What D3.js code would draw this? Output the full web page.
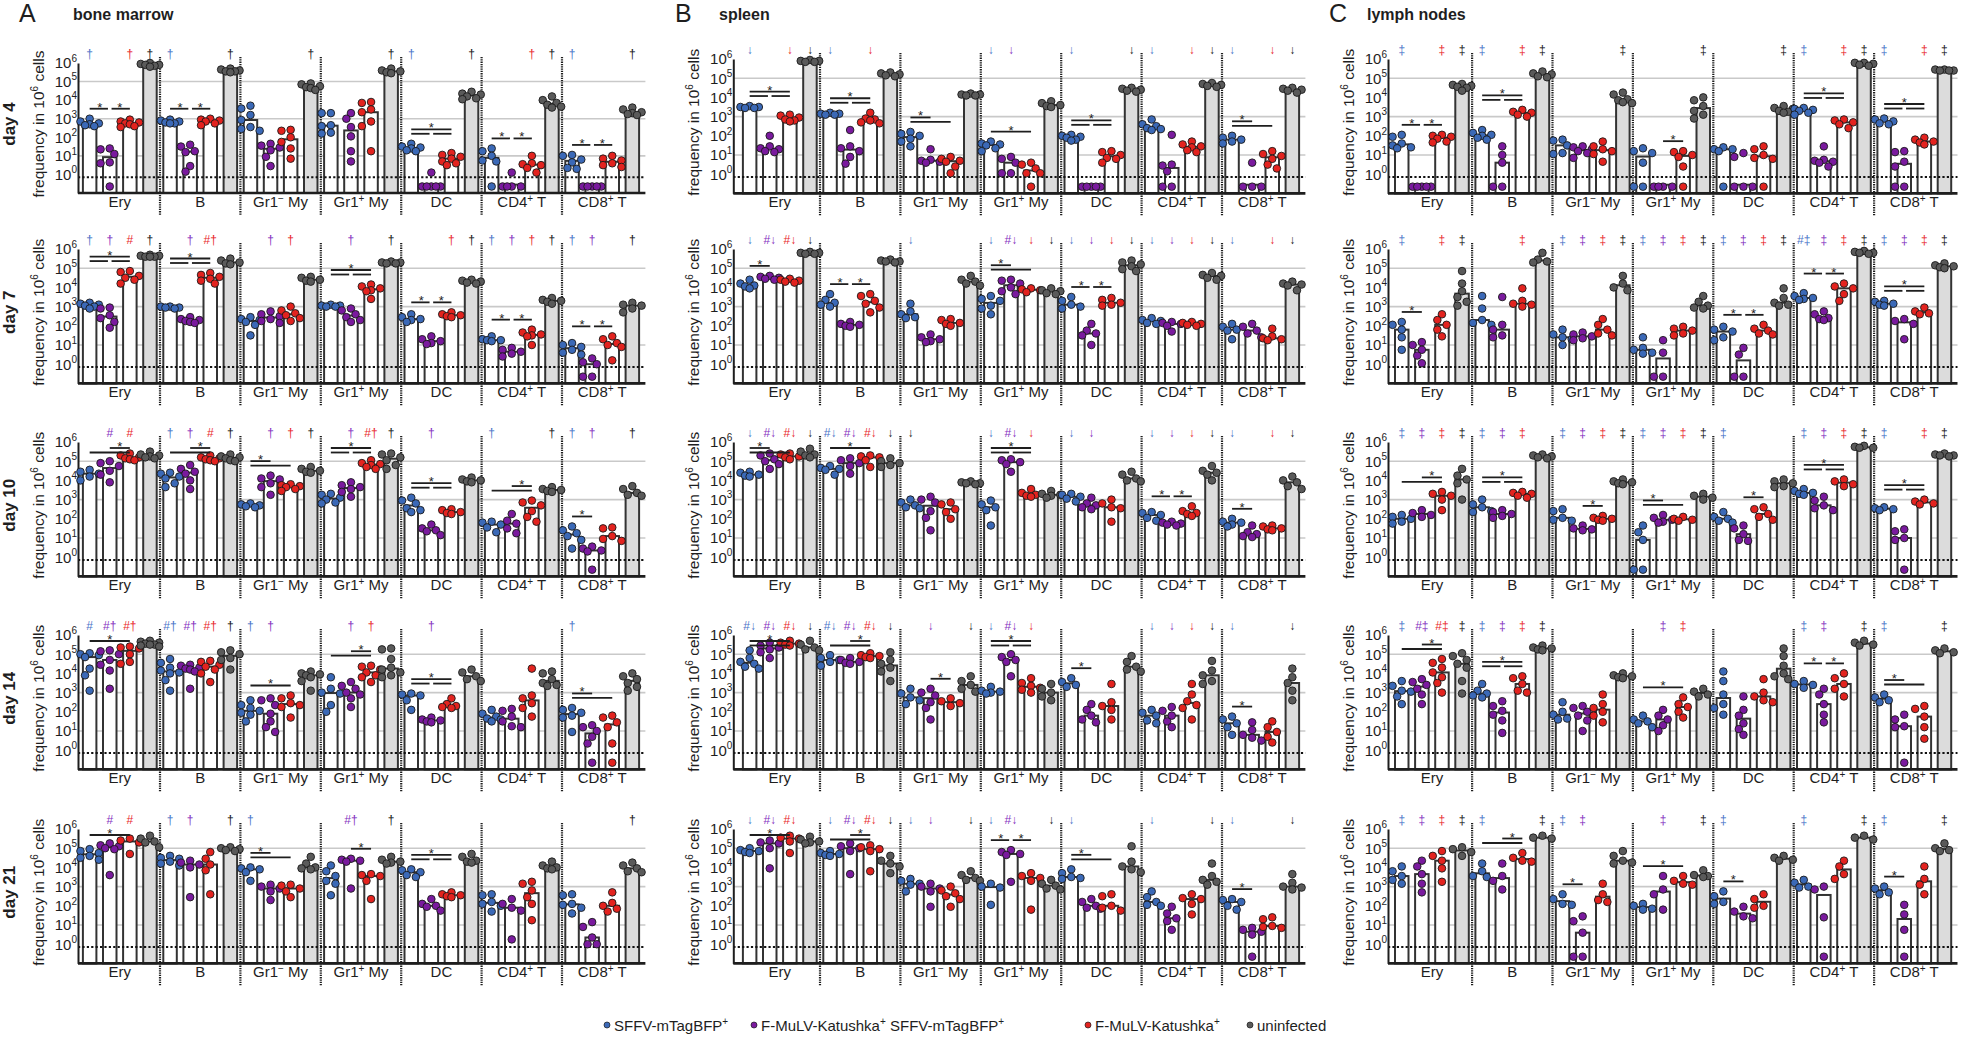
<!DOCTYPE html>
<html><head><meta charset="utf-8"><title>frequency chart</title>
<script src="https://cdn.jsdelivr.net/npm/d3@7/dist/d3.min.js"></script>
<style>html,body{margin:0;padding:0;background:#fff;}svg{display:block;}</style>
</head><body>
<svg id="chart" width="1961" height="1045"></svg>
<script>
// ---------- labels ----------
const tissues = ["bone marrow", "spleen", "lymph nodes"];
const panelLetters = ["A", "B", "C"];
const tissueMarks = ["\u2020", "\u2193", "\u2021"];
const days = ["day 4", "day 7", "day 10", "day 14", "day 21"];
// segments: odd index = superscript
const categories = [["Ery"], ["B"], ["Gr1", "\u2212", " My"], ["Gr1", "+", " My"], ["DC"], ["CD4", "+", " T"], ["CD8", "+", " T"]];
const groupLabels = [["SFFV-mTagBFP", "+"], ["F-MuLV-Katushka", "+", " SFFV-mTagBFP", "+"], ["F-MuLV-Katushka", "+"], ["uninfected"]];
const tickExponents = [0, 1, 2, 3, 4, 5, 6];

// ---------- values: log10(frequency in 10^6 cells), null = none detected ----------
const bm_d4 = [
 [[3.0,2.85,2.75,2.7,2.65,2.6],[1.4,1.35,1.1,0.65,0.6,null],[2.95,2.85,2.8,2.75,2.7,2.6,2.55],[6.0,5.95,5.9,5.9,5.85,5.8]],
 [[2.95,2.9,2.85,2.8,2.75,2.75],[1.6,1.5,1.25,1.2,0.45,0.15],[3.0,2.95,2.9,2.85,2.75,2.65],[5.7,5.65,5.6,5.55,5.55,5.5]],
 [[3.7,3.55,3.2,2.93,2.55,2.45,2.35],[1.65,1.55,1.45,1.3,0.95,0.45],[2.4,2.35,2.0,1.75,1.4,0.85],[4.9,4.85,4.75,4.7,4.65,4.55]],
 [[3.3,3.3,2.65,2.6,2.25,2.2],[3.3,3.0,2.55,2.05,1.25,0.7],[3.9,3.85,3.5,3.35,2.85,2.6,1.25],[5.7,5.6,5.55,5.5,5.45]],
 [[1.65,1.5,1.45,1.4,1.3,1.25],[0.1,null,null,null,null,null],[1.15,1.05,0.95,0.85,0.7,0.6,0.5],[4.45,4.35,4.3,4.2,4.1,4.05]],
 [[1.4,1.25,1.0,0.75,0.7,null],[0.1,null,null,null,null],[1.0,0.6,0.55,0.5,0.35,0.1],[4.2,4.0,3.85,3.75,3.65,3.6]],
 [[1.05,1.0,0.8,0.65,0.35,0.3],[null,null,null,null,null],[1.0,0.85,0.75,0.6,0.5,0.4],[3.6,3.5,3.35,3.3,3.25,3.2]]
];
const bm_d7 = [
 [[3.2,3.15,3.1,3.05,3.0,2.9],[2.95,2.9,2.55,2.4,2.2,1.9],[4.85,4.8,4.6,4.5,4.4,4.2],[5.7,5.65,5.65,5.6,5.6,5.6]],
 [[3.0,3.0,2.95,2.95,2.9],[2.45,2.35,2.3,2.25,2.2,2.15],[4.75,4.65,4.55,4.45,4.35,4.2],[5.5,5.4,5.3,5.25,5.2]],
 [[2.45,2.35,2.3,2.2,2.05,1.5],[2.75,2.6,2.5,2.35,2.25,2.15],[3.0,2.8,2.65,2.55,2.4,2.25],[4.55,4.5,4.4,4.35,4.3]],
 [[3.1,3.05,3.05,3.0,3.0],[2.9,2.8,2.6,2.45,2.3,2.2],[4.15,4.05,3.95,3.85,3.8,3.4],[5.35,5.3,5.3,5.25,5.25]],
 [[2.6,2.45,2.35,2.3,2.2],[1.45,1.3,1.2,1.1,1.05],[2.7,2.6,2.55,2.5,2.45],[4.4,4.35,4.3,4.25,4.2]],
 [[1.45,1.3,1.25,1.25,1.2],[0.85,0.75,0.65,0.55,0.4],[1.8,1.65,1.55,1.5,1.45,1.0],[3.45,3.35,3.3,3.25,3.15]],
 [[1.1,1.0,0.9,0.75,0.6,0.5],[0.3,0.1,0.0,null,null],[1.45,1.3,1.1,1.0,0.9,0.2],[3.2,3.1,3.05,2.9,2.7]]
];
const bm_d10 = [
 [[4.55,4.45,4.35,4.2,4.0],[5.0,4.9,4.75,4.5,4.3,3.9],[5.4,5.3,5.2,5.15,5.1,5.05],[5.5,5.35,5.3,5.25,5.2,5.15]],
 [[4.4,4.35,4.2,4.1,3.85,3.65],[4.8,4.6,4.45,4.35,4.0,3.55],[5.3,5.2,5.15,5.1,5.05,5.0],[5.35,5.25,5.2,5.15,5.05,5.0]],
 [[2.8,2.75,2.7,2.65,2.6],[4.25,4.1,4.05,3.85,3.65,3.25],[3.8,3.75,3.7,3.65,3.55,3.45],[4.7,4.6,4.5,4.45,4.4]],
 [[3.3,3.25,3.1,3.0,2.85,2.8],[3.9,3.75,3.65,3.55,3.4,3.15],[5.05,4.9,4.85,4.8,4.7,4.6],[5.4,5.35,5.2,5.05,4.8,4.6]],
 [[3.1,2.95,2.8,2.55,2.45,2.35],[1.7,1.5,1.4,1.35,1.15],[2.5,2.45,2.35,2.3,2.25],[4.15,4.05,4.0,3.95,3.9]],
 [[1.85,1.8,1.7,1.55,1.3],[2.25,1.9,1.75,1.5,1.25],[2.95,2.85,2.7,2.4,2.1,1.85],[3.65,3.55,3.5,3.45,3.4]],
 [[1.6,1.4,1.25,1.1,0.9,0.45],[0.55,0.45,0.35,0.3,null],[1.55,1.5,1.1,0.95,0.85],[3.7,3.55,3.35,3.25,3.2]]
];
const bm_d14 = [
 [[5.05,5.0,4.95,4.85,4.25,3.9,3.1],[5.2,5.15,5.0,4.7,4.45,4.15,3.2],[5.4,5.35,5.3,5.0,4.6,4.5],[5.7,5.65,5.6,5.55,5.5,5.5,5.45,5.4]],
 [[4.75,4.55,4.3,4.15,4.05,4.0,3.65,3.1],[4.45,4.4,4.3,4.25,4.2,4.1,3.2],[4.65,4.6,4.45,4.35,4.2,4.0,3.55],[5.2,5.1,5.0,4.8,4.7,4.2]],
 [[2.6,2.35,2.2,2.05,1.95,1.85,1.5],[2.7,2.6,2.35,1.9,1.5,1.2,0.95],[2.85,2.7,2.45,2.35,2.25,1.7],[4.1,4.0,3.95,3.9,3.8,3.6,3.1]],
 [[3.8,3.2,3.0,2.95,2.35,2.0],[3.55,3.35,3.2,3.0,2.9,2.7,2.25],[4.4,4.35,4.2,4.05,3.9,3.8,3.55],[5.3,5.25,4.75,4.3,4.2,4.05,3.9,3.8]],
 [[2.95,2.9,2.85,2.6,2.1],[1.7,1.6,1.55,1.5,1.45],[2.7,2.4,2.3,2.25,2.2],[4.2,4.05,3.85,3.7,3.6]],
 [[2.1,1.9,1.75,1.65,1.6,1.5],[2.15,2.05,1.75,1.5,1.25,1.2],[4.25,2.85,2.7,2.45,2.2,1.75],[4.1,4.0,3.7,3.5,3.4,3.35]],
 [[2.2,2.1,1.95,1.8,1.7,0.95],[1.3,1.2,1.0,0.7,0.35,null],[1.8,1.7,1.45,1.2,0.35,null],[4.0,3.85,3.7,3.5,3.3,3.1]]
];
const bm_d21 = [
 [[4.95,4.85,4.75,4.6,4.5,4.4],[5.25,5.15,5.1,5.0,4.95,3.6],[5.5,5.4,5.3,4.7],[5.65,5.5,5.35,5.3,5.05]],
 [[4.6,4.5,4.45,4.3,4.2,4.1],[4.35,4.25,4.15,4.0,2.45],[4.8,4.45,4.15,3.85,2.6],[5.05,5.0,4.95,4.9,4.85]],
 [[4.0,3.95,3.9,3.75,3.3],[3.1,3.0,2.9,2.75,2.3],[3.1,3.05,2.9,2.75,2.45],[4.55,4.2,4.0,3.95,3.9]],
 [[4.1,3.8,3.55,3.3,3.15,2.55],[4.45,4.4,4.35,4.3,2.9],[3.65,3.6,3.55,3.3,2.35],[4.55,4.4,4.3,4.25,4.2]],
 [[3.9,3.85,3.75,3.6,3.5],[2.35,2.1,2.0,1.95,1.75],[2.7,2.6,2.55,2.5,2.45],[4.7,4.55,4.35,4.3,4.25]],
 [[2.6,2.55,2.2,2.1,2.0,1.7],[2.35,2.1,1.9,1.75,0.25],[3.25,3.15,2.8,2.45,2.1,1.25],[4.3,4.1,4.0,3.95,3.9]],
 [[2.6,2.55,2.1,2.05,1.9,1.6],[1.15,0.9,0.35,0.0,0.0],[2.7,2.15,2.0,1.85,1.7],[4.25,4.1,3.95,3.8,3.75]]
];
const sp_d4 = [
 [[3.55,3.5,3.5,3.45,3.45],[2.0,1.45,1.35,1.3,1.2,1.15],[3.1,3.05,2.95,2.85,2.8,2.75],[5.95,5.9,5.9,5.85,5.85]],
 [[3.2,3.15,3.15,3.1,3.1],[2.3,1.45,1.35,1.2,0.9,0.55],[3.2,2.9,2.85,2.8,2.7,2.65],[5.3,5.25,5.2,5.15,5.1]],
 [[2.2,2.1,2.0,1.85,1.7,1.45],[1.3,0.75,0.7,0.65,0.6],[0.9,0.8,0.7,0.65,0.4,0.05],[4.2,4.15,4.15,4.1,4.1]],
 [[1.7,1.6,1.55,1.5,1.35,1.2],[0.9,0.8,0.6,0.05,0.05],[0.6,0.5,0.3,0.05,0.05,null],[3.8,3.7,3.6,3.55,3.5]],
 [[2.05,2.0,1.95,1.9,1.8,1.75],[null,null,null,null,null],[1.2,1.15,1.0,0.85,0.8,0.6],[4.5,4.45,4.4,4.35,4.3]],
 [[2.85,2.6,2.5,2.4,2.35,2.3],[2.05,0.5,0.45,0.15,null,null],[1.7,1.55,1.45,1.4,1.25,1.15],[4.75,4.7,4.65,4.6,4.55]],
 [[2.0,1.9,1.8,1.7,1.6],[0.6,null,null,null],[1.2,1.05,0.95,0.8,0.5,0.3],[4.5,4.45,4.4,4.35,4.25]]
];
const sp_d7 = [
 [[4.4,4.2,4.1,4.05,3.95],[4.6,4.55,4.5,4.45,4.4],[4.45,4.4,4.35,4.3,4.25],[5.85,5.8,5.8,5.75,5.75]],
 [[3.65,3.35,3.2,3.1,3.0],[2.2,2.1,2.05,2.0,1.95],[3.65,3.55,3.3,3.15,2.95,2.7],[5.45,5.4,5.35,5.35,5.3]],
 [[3.15,2.75,2.6,2.45,2.4],[1.55,1.4,1.3,1.2,1.15],[2.35,2.3,2.15,2.1,2.0],[4.6,4.4,4.3,4.2,4.1]],
 [[3.55,3.4,3.3,3.05,2.9,2.6],[4.4,4.35,4.2,4.0,3.8,3.65],[3.95,3.9,3.85,3.75],[3.95,3.85,3.8,3.7,3.65]],
 [[3.5,3.3,3.1,3.0,2.9],[2.1,1.75,1.6,1.5,1.0],[3.45,3.35,3.2,3.1,3.05],[5.4,5.3,5.2,5.1,4.95,4.85]],
 [[2.4,2.3,2.25,2.15,2.1],[2.2,2.15,2.1,2.0,1.7],[2.2,2.15,2.1,2.05,2.0],[4.75,4.65,4.6,4.5,4.4]],
 [[2.1,1.95,1.8,1.75,1.3],[2.1,1.95,1.75,1.6,1.4],[1.85,1.45,1.35,1.3,1.25],[4.3,4.2,4.15,4.1,3.85]]
];
const sp_d10 = [
 [[4.45,4.4,4.3,4.25,4.2],[5.4,5.3,5.1,5.0,4.85,4.6],[5.4,5.35,5.25,5.2,5.1],[5.65,5.5,5.35,5.3,5.2]],
 [[4.75,4.65,4.6,4.55,4.3],[5.15,5.05,4.9,4.75,4.35],[5.3,5.25,5.2,5.05,4.7],[5.15,5.0,4.9,4.8,4.7]],
 [[3.0,2.85,2.7,2.6,2.55],[3.15,3.0,2.85,2.4,2.05,1.4],[2.85,2.75,2.5,2.35,2.0],[3.95,3.9,3.85,3.85,3.8]],
 [[2.95,2.75,2.6,2.45,1.65],[5.1,5.05,4.95,4.85,4.45],[3.55,3.35,3.25,3.2,3.15],[3.45,3.3,3.25,3.2,3.1]],
 [[3.3,3.25,3.15,3.05,2.9],[3.1,2.8,2.7,2.6,2.5],[3.0,2.8,2.6,2.55,1.85],[4.45,4.3,4.1,4.0,3.95]],
 [[2.35,2.3,2.2,2.05,1.9],[1.85,1.8,1.75,1.7,1.65],[2.65,2.4,2.3,2.25,2.15],[4.75,4.5,4.4,4.3,4.0]],
 [[2.0,1.85,1.8,1.7,1.6],[1.65,1.3,1.2,1.1,1.05],[1.65,1.6,1.5,1.45,1.4],[4.2,4.0,3.9,3.7,3.55]]
];
const sp_d14 = [
 [[5.2,4.8,4.6,4.5,4.35,4.25],[5.6,5.45,5.35,5.25,5.1,4.8],[5.7,5.6,5.55,5.5,5.45],[5.7,5.5,5.35,5.25,5.2]],
 [[4.95,4.8,4.7,4.6,4.4],[4.8,4.7,4.6,4.55,4.5],[5.05,4.95,4.9,4.85,4.8],[5.1,4.7,4.5,4.3,4.1,3.6]],
 [[3.2,2.95,2.75,2.6,2.4],[3.2,3.0,2.85,2.5,2.2,1.6],[2.7,2.55,2.45,2.3],[3.85,3.6,3.4,3.2,3.05]],
 [[3.3,3.1,3.05,3.0,2.95],[5.0,4.85,4.7,4.6,3.85],[3.75,3.5,3.35,3.25,3.15,3.0],[3.45,3.2,3.0,2.8,2.6]],
 [[3.75,3.55,3.4,3.3],[2.4,2.1,1.8,1.6,1.45],[3.45,2.5,2.3,2.1,1.6],[4.9,4.6,4.35,4.2,4.1]],
 [[2.1,1.95,1.8,1.55,1.4],[2.25,2.05,1.8,1.5,1.2],[3.45,2.9,2.55,2.35,2.2,1.6],[4.65,4.15,3.9,3.6,3.45]],
 [[1.75,1.6,1.4,1.2,0.8],[1.45,1.05,0.8,0.65,0.5],[1.5,1.2,0.95,0.7,0.4],[4.25,3.8,3.5,3.1,2.6]]
];
const sp_d21 = [
 [[5.0,4.9,4.85,4.8,4.75],[5.4,5.3,5.25,5.0,3.95],[5.65,5.55,5.5,5.35,4.75],[5.6,5.45,5.35,5.3,5.25]],
 [[4.85,4.75,4.7,4.65,4.6],[5.25,5.1,5.0,4.85,3.65],[5.15,5.05,4.95,4.85,3.8],[4.6,4.35,4.2,4.05,3.7]],
 [[3.4,3.3,3.15,3.1,2.75],[3.15,3.0,2.9,2.75,1.95],[3.0,2.8,2.65,2.5,2.35,1.95],[3.8,3.6,3.45,3.35,3.3]],
 [[3.15,3.0,2.95,2.05],[4.9,4.8,4.7,4.65,3.25],[3.7,3.55,3.45,3.3,1.8],[3.35,3.15,3.05,2.9,2.85]],
 [[3.9,3.7,3.5,3.45,3.4],[2.35,2.2,2.0,1.9,1.85],[2.6,2.5,2.0,1.9,1.75],[5.1,4.3,4.05,3.9,3.75]],
 [[2.75,2.45,2.2,2.05,2.0],[1.95,1.6,1.35,1.2,0.75],[2.6,2.4,2.35,2.1,1.55],[4.2,3.55,3.35,3.25,3.1]],
 [[2.35,2.3,2.2,2.0,1.8],[0.85,0.75,0.65,0.5,null],[1.4,1.3,0.95,0.85,0.9],[3.65,3.2,3.0,2.95,2.85]]
];
const ln_d4 = [
 [[2.05,1.95,1.6,1.5,1.4,1.35],[null,null,null,null,null],[2.05,2.0,1.95,1.85,1.7,1.65],[4.7,4.65,4.6,4.55,4.5,4.35]],
 [[2.3,2.15,2.05,2.0,1.9,1.8],[1.45,1.0,0.6,null,null],[3.35,3.25,3.2,3.1,3.0],[5.35,5.25,5.2,5.1,5.05]],
 [[1.8,1.75,1.5,1.1,1.05],[1.45,1.4,1.3,1.2,1.1,0.85],[1.7,1.45,1.3,1.2,1.05,0.65],[4.25,4.15,3.9,3.85,3.75,3.7]],
 [[1.35,1.2,1.1,0.6,null,null],[null,null,null,null],[1.2,1.15,1.0,0.9,0.4,null],[4.0,3.85,3.55,3.3,3.1,2.9]],
 [[1.4,1.3,1.3,1.2,null],[1.1,0.9,null,null,null],[1.45,1.3,1.0,0.85,0.8,null],[3.55,3.45,3.4,3.3,3.25,3.2]],
 [[3.45,3.4,3.35,3.3,3.2,3.1],[1.45,0.75,0.7,0.65,0.6,0.4],[2.85,2.8,2.7,2.6,2.4],[5.8,5.8,5.75,5.7,5.65]],
 [[2.9,2.85,2.75,2.65,2.6],[1.2,1.15,0.65,0.4,null,null],[1.9,1.8,1.7,1.65,1.55],[5.45,5.45,5.4,5.4,5.4]]
];
const ln_d7 = [
 [[2.2,2.05,1.8,1.4,0.75],[1.15,1.0,0.75,0.45,0.05],[2.6,2.3,2.05,1.8,1.45],[4.85,4.2,3.8,3.5,3.25,3.05]],
 [[3.55,2.9,2.3,2.15,2.05],[3.5,2.05,1.8,1.5,1.4],[3.95,3.3,3.15,3.1,3.0],[5.8,5.45,5.35,5.3]],
 [[1.8,1.55,1.4,1.3,1.0],[1.65,1.55,1.45,1.35,1.25],[2.35,2.05,1.8,1.6,1.5],[4.6,4.2,4.0,3.85]],
 [[1.4,0.85,0.75,0.6,0.55],[1.25,0.6,null,null],[1.95,1.85,1.75,1.6,1.5],[3.55,3.25,3.05,2.95,2.9]],
 [[1.95,1.8,1.7,1.4,1.25],[0.85,0.5,null,null],[2.05,1.85,1.75,1.6,1.55],[3.95,3.45,3.2,3.1,3.05]],
 [[3.7,3.55,3.45,3.4,3.35],[2.75,2.6,2.4,2.35,2.3],[4.2,4.05,3.95,3.65,3.3],[5.9,5.85,5.8,5.8,5.75]],
 [[3.3,3.25,3.15,3.1,3.05],[2.35,2.25,2.1,1.3],[2.95,2.75,2.65,2.6],[5.25,5.15,5.1,5.05,5.0]]
];
const ln_d10 = [
 [[2.2,2.1,2.0,1.85,1.75],[2.45,2.3,2.2,2.1],[3.4,3.3,3.2,3.0,2.45],[4.6,4.25,4.05,3.85,3.0]],
 [[3.0,2.75,2.6,2.4,2.35],[2.45,2.35,2.25,2.15,2.05],[3.4,3.35,3.3,3.2,3.1],[5.35,5.3,5.25,5.2,5.15]],
 [[2.5,2.4,2.05,1.95,1.9],[1.65,1.5,1.45,1.4],[2.15,2.05,2.0,1.95,1.9],[4.05,3.95,3.9,3.85,3.8]],
 [[1.65,1.3,0.9,null,null],[2.2,2.05,1.95,1.85,1.8],[2.1,2.0,1.95,1.9],[3.3,3.2,3.1,3.0]],
 [[2.35,2.1,2.0,1.9,1.8],[1.65,1.5,1.2,0.9,0.85],[2.6,2.5,2.25,2.1,1.95],[4.05,3.95,3.85,3.7,3.65]],
 [[3.55,3.45,3.35,3.3,3.25],[3.15,2.95,2.7,2.55,2.45],[4.05,3.95,3.8,3.7],[5.8,5.75,5.7,5.7]],
 [[2.6,2.55,2.5,2.45],[1.45,1.35,1.0,0.9,null],[3.0,2.9,2.8,2.75],[5.4,5.35,5.3,5.3,5.25]]
];
const ln_d14 = [
 [[3.6,3.35,3.1,3.05,2.8,2.4],[3.7,3.55,3.4,3.2,2.9,2.4],[4.75,4.55,4.3,4.05,3.8,3.5,3.0],[5.05,4.9,4.7,4.5,4.3,3.6,2.95]],
 [[3.45,3.1,2.95,2.85,2.75],[2.55,2.3,2.05,1.85,1.55,0.9],[3.85,3.75,3.45,3.1,3.0],[5.45,5.35,5.3,5.25,5.2]],
 [[2.5,2.0,1.85,1.65,1.6],[2.3,2.2,2.0,1.8,1.55,1.0],[2.9,2.4,2.2,2.0,1.8,1.45],[4.0,3.9,3.85,3.8,3.75]],
 [[1.8,1.6,1.5,1.4,1.2],[2.1,1.8,1.6,1.3,1.0],[2.75,2.4,2.25,2.0,1.7],[3.2,3.05,2.9,2.8]],
 [[4.1,3.6,2.9,2.4,2.2,1.85],[2.8,2.1,1.8,1.4,1.1,0.8],[3.7,3.0,2.8,2.6,2.5],[5.3,4.9,4.4,4.0,3.85,3.7]],
 [[3.6,3.45,3.4,3.25],[3.2,2.9,2.4,1.85,1.45],[4.0,3.75,3.45,3.2,2.8],[5.7,5.6,5.5,5.45]],
 [[2.9,2.75,2.6,2.5],[1.85,1.6,1.25,1.2,null],[2.3,2.15,1.75,1.2,0.6],[5.3,5.2,5.1,5.05]]
];
const ln_d21 = [
 [[4.05,3.8,3.55,3.35,3.15],[4.35,4.05,3.65,3.15,2.7],[4.85,4.6,4.35,3.95,3.25],[5.05,4.95,4.8,4.6]],
 [[4.2,3.8,3.55,3.5],[4.2,3.55,3.3,2.85],[4.75,4.5,4.35,4.3],[5.65,5.55,5.5]],
 [[2.6,2.35,2.1,2.05],[1.45,1.2,0.6,null,null],[3.15,2.6,2.3,2.2],[4.85,4.6,4.35,4.25,4.2]],
 [[2.1,2.0,1.85,1.8],[3.55,2.85,2.6,1.8],[3.55,3.3,3.15,3.1],[3.85,3.6,3.55,3.5]],
 [[2.75,2.5,2.2,2.1],[1.95,1.7,1.45,1.35],[2.6,2.35,2.0,1.9],[4.6,4.5,4.4,4.35]],
 [[3.35,3.2,3.0,2.95],[3.0,2.85,1.4,null],[4.35,4.05,3.65,3.4],[5.65,5.55,5.45]],
 [[3.0,2.9,2.7,2.6],[2.05,1.55,0.75,null],[4.05,3.4,3.1,2.6],[5.25,5.0,4.9,4.85]]
];

// ---------- significance brackets per category ----------
// p: 0-1 & 1-2 each starred; d: 0-2 over split 0-1/1-2; l: 0-2; s01/s12: single; a: 0-1 over 0-2; b: 1-2 over 0-2
const bm_sig = [["p","p","","","d","p","p"],["d","d","","d","p","p","p"],["b","b","a","d","d","b","s01"],["l","","l","b","d","","a"],["l","","a","s12","d","",""]];
const sp_sig = [["d","d","a","l","d","","a"],["s01","p","","a","p","",""],["a","l","","d","","p","s01"],["d","b","s12","d","s01","","s01"],["l","b","","p","a","","s01"]];
const ln_sig = [["p","d","","s12","","d","d"],["s01","","","","p","p","d"],["b","d","s12","a","s12","d","d"],["b","d","","l","","p","a"],["","b","s01","l","s01","","s01"]];

// ---------- marks above bars: m = tissue mark, h = #, b = # + mark, k = black mark, . = none ----------
const bm_sym = [["m.mm","m..m","...m","...m","m..m","..mm","m..m"],["mmhm",".mb.",".mm.",".m.m","..mm","mmmm","mm.m"],[".hh.","mmhm",".mmm",".mbm",".m..","m..m","mm.m"],["hbb.","bbbm","mm..",".mm.",".m..","....","m..."],[".hh.","mm.m","m...",".b.m","....","....","...m"]];
const sp_sym = [["m.mm","m.m.","....","mm..","m..m","m.mm","m.mm"],["mbbm","....","m...","mbmm","mmmm","mmmm","m.mm"],["mbbm","bbbm","k...","mbm.","mm..","mmmm","m.mm"],["bbbm","bbbm",".m.m","mbm.","....","mmmm","m..m"],["mbb.","mbbm","mm.m","mb.m","m...","m..m","m..m"]];
const ln_sym = [["m.mm","m.mm","...m","...m","...m","m.mm","m.mm"],["m.mm","..m.","mmmm","mmmm","mmmm","bmmm","mmmm"],["mmmm","mmm.","mmmm","mmmm","m...","mmmm","m.mm"],["mbbm","mmmm","....",".mm.","....","mm.m","m..m"],["mmmm","m..m","mm..",".m.m","m...","m..m","m..m"]];

const panelData = [[bm_d4, bm_d7, bm_d10, bm_d14, bm_d21],[sp_d4, sp_d7, sp_d10, sp_d14, sp_d21],[ln_d4, ln_d7, ln_d10, ln_d14, ln_d21]];
const panelSig = [bm_sig, sp_sig, ln_sig];
const panelSym = [bm_sym, sp_sym, ln_sym];

// ---------- styling / layout ----------
const FONT = '"Liberation Sans", Arial, Helvetica, sans-serif';
const groupFill = ["#3b69b7", "#7a1a9e", "#e3231f", "#5a5a5a"];
const symbolFill = ["#4a74c8", "#8532c0", "#e8282c", "#161616"];
const barFill = ["#ffffff", "#ffffff", "#ffffff", "#dcdcdc"];
const INK = "#1e1e1e";
const CAT_W = 80.4, BAR_W = 13.5, DOT_R = 3.8;
const colAxisX = [78, 733.3, 1388];
const colCatX = [79.6, 739.6, 1391.7];
const letterX = [19, 675, 1329];
const titleX = [73, 719, 1367];
const rowTop = [59, 249, 442, 635, 829];
const ROW_H = 134.4;
const ZERO_DOT = Math.pow(10, -0.65), ZERO_BAR = Math.pow(10, -0.55), LOD = Math.pow(10, -0.15);

const svg = d3.select("#chart").attr("font-family", FONT);

function segText(sel, segs, supSize, shift) {
  segs.forEach((s, i) => {
    const t = sel.append("tspan").text(s);
    if (i % 2 === 1) t.attr("font-size", supSize).attr("dy", -shift);
    else if (i > 0) t.attr("dy", shift);
  });
}

function swarm(pys, cx) {
  const order = pys.map((py, i) => ({ py, i })).sort((a, b) => a.py - b.py);
  const placed = [];
  const step = 4.6, cands = [0, -1, 1, -2, 2];
  order.forEach(p => {
    let bestX = cx, bestD = -1;
    for (const k of cands) {
      const x = cx + k * step;
      let minD = Infinity;
      placed.forEach(q => { const d = Math.hypot(q.px - x, q.py - p.py); if (d < minD) minD = d; });
      if (minD >= 2 * DOT_R * 0.9) { bestX = x; bestD = Infinity; break; }
      if (minD > bestD + 0.5) { bestD = minD; bestX = x; }
    }
    p.px = bestX; placed.push(p);
  });
  return placed;
}

// headers
tissues.forEach((t, ci) => {
  svg.append("text").attr("x", letterX[ci]).attr("y", 22).attr("font-size", 25).attr("fill", INK).text(panelLetters[ci]);
  svg.append("text").attr("x", titleX[ci]).attr("y", 20).attr("font-size", 16).attr("font-weight", "bold").attr("fill", INK).text(t);
});

tissues.forEach((tissue, ci) => {
  days.forEach((day, ri) => {
    let top = rowTop[ri], h = ROW_H;
    if (ci === 0 && ri === 0) { top = 63; h = 130; }
    const bottom = top + h;
    const axisX = colAxisX[ci], x0 = colCatX[ci], x1 = x0 + 7 * CAT_W, xEnd = x1 + 3;
    const y = d3.scaleLog().domain([0.1, 1e6]).range([bottom, top]);
    const xCat = d3.scaleBand().domain(d3.range(7)).range([x0, x1]);
    const xGrp = d3.scaleBand().domain(d3.range(4)).range([0, CAT_W]);
    const data = panelData[ci][ri], sig = panelSig[ci][ri], sym = panelSym[ci][ri];
    const g = svg.append("g");

    // gridlines
    g.selectAll("line.grid").data([1e1, 1e3, 1e5]).join("line").attr("class", "grid")
      .attr("x1", axisX).attr("x2", xEnd).attr("y1", d => y(d)).attr("y2", d => y(d))
      .attr("stroke", "#c9c9c9").attr("stroke-width", 1.6);

    // category separators
    g.selectAll("line.sep").data(d3.range(1, 7)).join("line").attr("class", "sep")
      .attr("x1", d => xCat(d)).attr("x2", d => xCat(d)).attr("y1", top - 6).attr("y2", bottom + 22)
      .attr("stroke", INK).attr("stroke-width", 2.2).attr("stroke-dasharray", "1.3,1");

    // bars
    const bars = [];
    data.forEach((cat, c) => cat.forEach((vals, gi) => {
      const med = d3.median(vals.map(v => v == null ? 0 : Math.pow(10, v)));
      bars.push({ c, gi, cx: xCat(c) + xGrp(gi) + xGrp.bandwidth() / 2, val: Math.max(med, ZERO_BAR), vals });
    }));
    g.selectAll("rect.bar").data(bars).join("rect").attr("class", "bar")
      .attr("x", d => d.cx - BAR_W / 2).attr("width", BAR_W)
      .attr("y", d => y(d.val)).attr("height", d => bottom - y(d.val))
      .attr("fill", d => barFill[d.gi]).attr("stroke", "#333").attr("stroke-width", 2);

    // detection limit
    g.append("line").attr("x1", axisX).attr("x2", xEnd).attr("y1", y(LOD)).attr("y2", y(LOD))
      .attr("stroke", "#111").attr("stroke-width", 2).attr("stroke-dasharray", "2.2,2.2");

    // axes
    g.append("line").attr("x1", axisX).attr("x2", xEnd).attr("y1", bottom).attr("y2", bottom)
      .attr("stroke", INK).attr("stroke-width", 2.6);
    const ax = g.append("g").attr("transform", `translate(${axisX},0)`)
      .call(d3.axisLeft(y).tickValues(tickExponents.map(e => Math.pow(10, e))).tickSize(0).tickPadding(1).tickFormat(() => ""));
    ax.select(".domain").attr("stroke", INK).attr("stroke-width", 2);
    ax.selectAll(".tick text").each(function (d) {
      const t = d3.select(this).attr("font-size", 15).attr("font-family", FONT).attr("fill", INK);
      t.text(null);
      segText(t, ["10", String(Math.round(Math.log10(d)))], 10, 6.5);
    });

    // dots
    const dotsY = data.map(cat => cat.map(() => []));
    bars.forEach(b => {
      const pys = b.vals.map(v => y(v == null ? ZERO_DOT : Math.pow(10, v)));
      dotsY[b.c][b.gi] = pys;
      const pts = swarm(pys, b.cx);
      g.selectAll(null).data(pts).join("circle")
        .attr("cx", p => p.px).attr("cy", p => p.py).attr("r", DOT_R)
        .attr("fill", groupFill[b.gi]).attr("stroke", "#1a1a1a").attr("stroke-width", 0.9);
    });

    // category labels
    categories.forEach((lab, c) => {
      const t = g.append("text").attr("x", xCat(c) + CAT_W / 2).attr("y", bottom + 13.5)
        .attr("text-anchor", "middle").attr("font-size", 15).attr("fill", INK);
      segText(t, lab, 10, 5);
    });

    // significance
    sig.forEach((type, c) => {
      if (!type) return;
      const cx = d3.range(4).map(gi => xCat(c) + xGrp(gi) + xGrp.bandwidth() / 2);
      const grp = type === "s01" ? [0, 1] : type === "s12" ? [1, 2] : [0, 1, 2];
      const maxY = d3.min(grp.flatMap(i => dotsY[c][i]));
      const two = ["d", "a", "b"].includes(type);
      let base = Math.max(maxY - 10, top + (two ? 10.5 : 6));
      const upper = base - 4.5, gap = 1.8;
      let segs = [], stars = [];
      if (type === "p") { segs = [[cx[0], cx[1] - gap, base], [cx[1] + gap, cx[2], base]]; stars = [[(cx[0] + cx[1]) / 2, base], [(cx[1] + cx[2]) / 2, base]]; }
      else if (type === "d") { segs = [[cx[0], cx[2], upper], [cx[0], cx[1] - gap, base], [cx[1] + gap, cx[2], base]]; stars = [[cx[1], upper]]; }
      else if (type === "l") { segs = [[cx[0], cx[2], base]]; stars = [[cx[1], base]]; }
      else if (type === "s01") { segs = [[cx[0], cx[1], base]]; stars = [[(cx[0] + cx[1]) / 2, base]]; }
      else if (type === "s12") { segs = [[cx[1], cx[2], base]]; stars = [[(cx[1] + cx[2]) / 2, base]]; }
      else if (type === "a") { segs = [[cx[0], cx[1], upper], [cx[0], cx[2], base]]; stars = [[(cx[0] + cx[1]) / 2, upper]]; }
      else if (type === "b") { segs = [[cx[1], cx[2], upper], [cx[0], cx[2], base]]; stars = [[(cx[1] + cx[2]) / 2, upper]]; }
      segs.forEach(s => g.append("line").attr("x1", s[0]).attr("x2", s[1]).attr("y1", s[2]).attr("y2", s[2])
        .attr("stroke", INK).attr("stroke-width", 1.8));
      stars.forEach(s => g.append("text").attr("x", s[0]).attr("y", s[1] + 3).attr("text-anchor", "middle")
        .attr("font-size", 13).attr("fill", INK).text("*"));
    });

    // marks above bars
    sym.forEach((code, c) => {
      code.split("").forEach((ch, gi) => {
        if (ch === ".") return;
        const txt = ch === "h" ? "#" : ch === "b" ? "#" + tissueMarks[ci] : tissueMarks[ci];
        const col = ch === "k" ? symbolFill[3] : symbolFill[gi];
        g.append("text").attr("x", xCat(c) + xGrp(gi) + xGrp.bandwidth() / 2).attr("y", top - 5)
          .attr("text-anchor", "middle").attr("font-size", 12).attr("fill", col).text(txt);
      });
    });

    // y-axis title
    const cy = (top + bottom) / 2 - 4;
    const yt = g.append("text").attr("transform", `translate(${axisX - 34},${cy}) rotate(-90)`)
      .attr("text-anchor", "middle").attr("font-size", 15.5).attr("fill", INK);
    segText(yt, ["frequency in 10", "6", " cells"], 10, 6);

    // day label
    if (ci === 0) {
      g.append("text").attr("transform", `translate(15,${cy}) rotate(-90)`).attr("text-anchor", "middle")
        .attr("font-size", 17).attr("font-weight", "bold").attr("fill", INK).text(day);
    }
  });
});

// legend
const legendX = [607, 754, 1088, 1250];
groupLabels.forEach((lab, i) => {
  svg.append("circle").attr("cx", legendX[i]).attr("cy", 1025).attr("r", 3)
    .attr("fill", groupFill[i]).attr("stroke", "#1a1a1a").attr("stroke-width", 0.7);
  const t = svg.append("text").attr("x", legendX[i] + 7).attr("y", 1030.5).attr("font-size", 15).attr("fill", INK);
  segText(t, lab, 10, 6);
});
</script>
</body></html>
